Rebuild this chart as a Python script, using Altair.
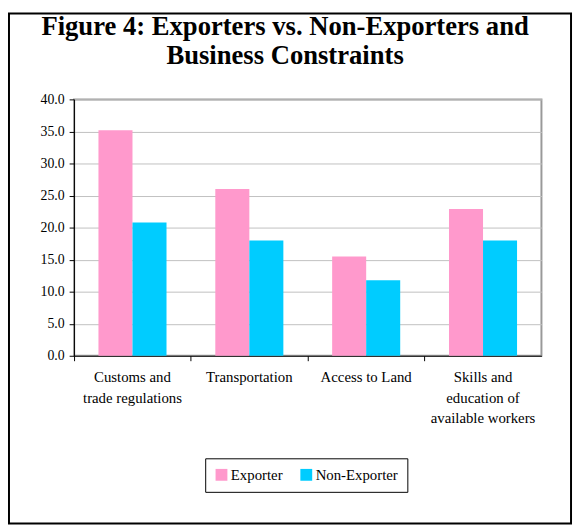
import altair as alt
import pandas as pd

categories = ["Customs and|trade regulations", "Transportation", "Access to Land",
              "Skills and|education of|available workers"]
series = ["Exporter", "Non-Exporter"]
exporter = [35.2, 26.0, 15.5, 22.9]
non_exporter = [20.8, 18.0, 11.8, 18.0]
colors = ["#FF99CC", "#00CCFF"]
y_ticks = [0, 5, 10, 15, 20, 25, 30, 35, 40]

rows = []
for c, e, n in zip(categories, exporter, non_exporter):
    rows.append({"category": c, "series": series[0], "value": e})
    rows.append({"category": c, "series": series[1], "value": n})
df = pd.DataFrame(rows)

FONT = "Liberation Serif"

bars = alt.Chart(df).mark_bar().encode(
    x=alt.X("category:N", sort=categories, title=None,
            scale=alt.Scale(paddingInner=0, paddingOuter=0),
            axis=alt.Axis(labelExpr="split(datum.value, '|')", labelAngle=0,
                          bandPosition=0, tickSize=5, tickColor="black",
                          domainColor="black", labelPadding=9,
                          labelLineHeight=21, labelFontSize=15,
                          labelFont=FONT, labelColor="black",
                          labelBaseline="top", grid=False)),
    xOffset=alt.XOffset("series:N", sort=series,
                        scale=alt.Scale(paddingInner=0, paddingOuter=0.717)),
    y=alt.Y("value:Q", title=None,
            scale=alt.Scale(domain=[0, 40], nice=False),
            axis=alt.Axis(values=y_ticks, format=".1f", tickSize=5,
                          tickColor="black", domainColor="black",
                          labelPadding=5, labelFontSize=14,
                          labelFont=FONT, labelColor="black",
                          gridColor="#C0C0C0", gridWidth=1)),
    color=alt.Color("series:N", sort=series,
                    scale=alt.Scale(domain=series, range=colors),
                    legend=alt.Legend(title=None, orient="none", legendX=133,
                                      legendY=364, direction="horizontal",
                                      strokeColor="black", padding=9,
                                      symbolType="square", symbolSize=144,
                                      symbolStrokeWidth=0, symbolOpacity=1,
                                      labelFontSize=15, labelOffset=2,
                                      columnPadding=16, labelFont=FONT,
                                      labelColor="black")),
)

frame = alt.Chart(alt.Data(values=[{"f": 1}])).mark_rect(
    fill=None, stroke="black", strokeWidth=2
).encode(
    x=alt.value(-66), x2=alt.value(504), y=alt.value(-87), y2=alt.value(430)
)

chart = alt.layer(bars, frame).properties(
    width=474, height=260,
    autosize=alt.AutoSizeParams(type="none"),
    padding={"left": 67, "top": 89, "right": 32, "bottom": 172},
    title=alt.Title(["Figure 4: Exporters vs. Non-Exporters and", "Business Constraints"],
                    font=FONT, fontSize=27, fontWeight="bold", color="black",
                    anchor="middle", dx=-23, offset=-58, lineHeight=29),
).configure(
    background="white"
).configure_view(
    stroke="#999999", strokeWidth=2
)

chart.save("out.html", embed_options={"renderer": "svg", "actions": False})
